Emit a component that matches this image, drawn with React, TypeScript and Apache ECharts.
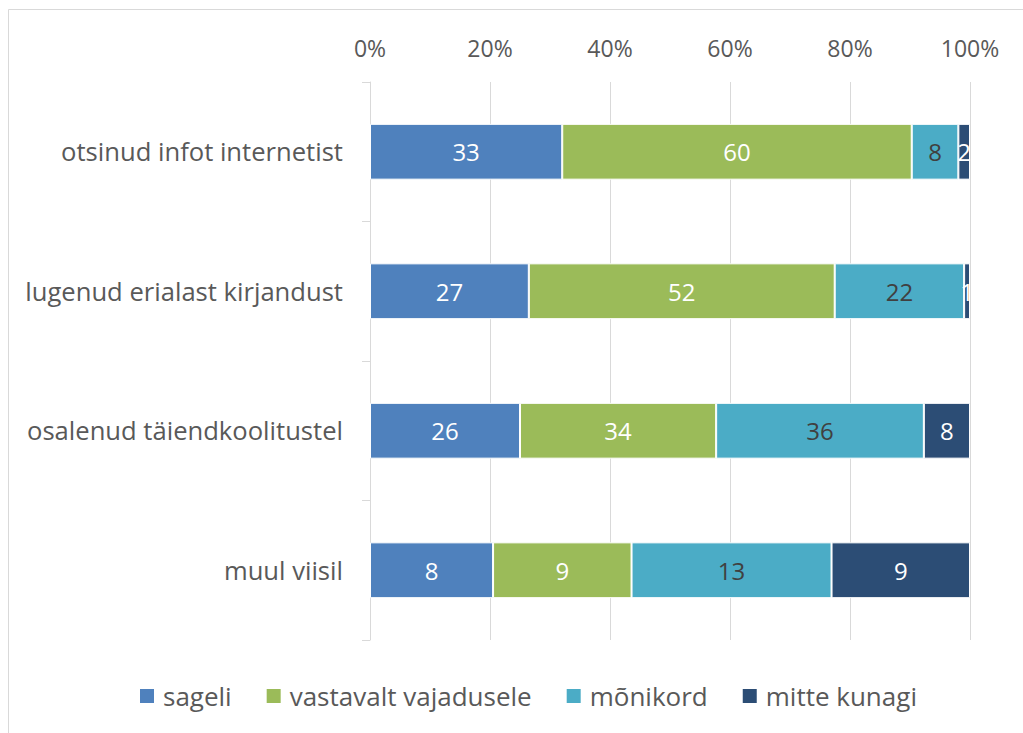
import React, { useEffect, useRef } from "react";
import * as echarts from "echarts";

const categories = [
  "otsinud infot internetist",
  "lugenud erialast kirjandust",
  "osalenud täiendkoolitustel",
  "muul viisil",
];
const seriesNames = ["sageli", "vastavalt vajadusele", "mõnikord", "mitte kunagi"];
const sageli = [33, 27, 26, 8];
const vastavalt = [60, 52, 34, 9];
const monikord = [8, 22, 36, 13];
const mitteKunagi = [2, 1, 8, 9];
const colors = ["#4F81BD", "#9BBB59", "#4BACC6", "#2C4D75"];
const labelColors = ["#ffffff", "#ffffff", "#404040", "#ffffff"];
const axisTicks = [0, 20, 40, 60, 80, 100];

const FONT = "Open Sans";

export default function App() {
  const ref = useRef<HTMLDivElement>(null);
  useEffect(() => {
    if (!ref.current) return;
    const chart = echarts.init(ref.current, undefined, { renderer: "svg" });
    const raw = [sageli, vastavalt, monikord, mitteKunagi];
    const totals = categories.map((_, i) => raw.reduce((s, arr) => s + arr[i], 0));
    chart.setOption({
      animation: false,
      backgroundColor: "#ffffff",
      textStyle: { fontFamily: FONT },
      graphic: [
        {
          type: "rect",
          shape: { x: 8.5, y: 9.5, width: 1100, height: 900 },
          style: { fill: "none", stroke: "#d9d9d9", lineWidth: 1 },
          silent: true,
        },
      ],
      grid: { left: 370, right: 53, top: 82, bottom: 93, containLabel: false },
      xAxis: {
        type: "value",
        position: "top",
        min: axisTicks[0],
        max: axisTicks[axisTicks.length - 1],
        interval: 20,
        axisLine: { show: false },
        axisTick: { show: false },
        splitLine: { show: true, lineStyle: { color: "#d9d9d9", width: 1 } },
        axisLabel: {
          formatter: "{value}%",
          fontSize: 23,
          color: "#595959",
          fontFamily: FONT,
          margin: 23,
        },
      },
      yAxis: {
        type: "category",
        inverse: true,
        data: categories,
        axisLine: { show: true, lineStyle: { color: "#d9d9d9", width: 1 } },
        axisTick: { show: true, length: 8, lineStyle: { color: "#d9d9d9" } },
        axisLabel: { fontSize: 25.6, color: "#595959", fontFamily: FONT, margin: 27 },
      },
      legend: {
        top: 678,
        left: 133,
        icon: "rect",
        itemWidth: 16,
        itemHeight: 16,
        itemGap: 33,
        textStyle: { fontSize: 26, color: "#595959", fontFamily: FONT, padding: [0, 0, 0, 3] },
        data: seriesNames,
      },
      series: seriesNames.map((name, si) => ({
        name,
        type: "bar",
        stack: "total",
        barWidth: "40%",
        itemStyle: { color: colors[si], borderColor: "#ffffff", borderWidth: 1 },
        label: {
          show: true,
          position: "inside",
          fontSize: 24,
          color: labelColors[si],
          fontFamily: FONT,
          formatter: (p: any) => String(raw[si][p.dataIndex]),
        },
        data: raw[si].map((v, i) => (v / totals[i]) * 100),
      })),
    });
    return () => chart.dispose();
  }, []);
  return (
    <div
      ref={ref}
      style={{ position: "absolute", left: 0, top: 0, width: 1023, height: 733 }}
    />
  );
}
